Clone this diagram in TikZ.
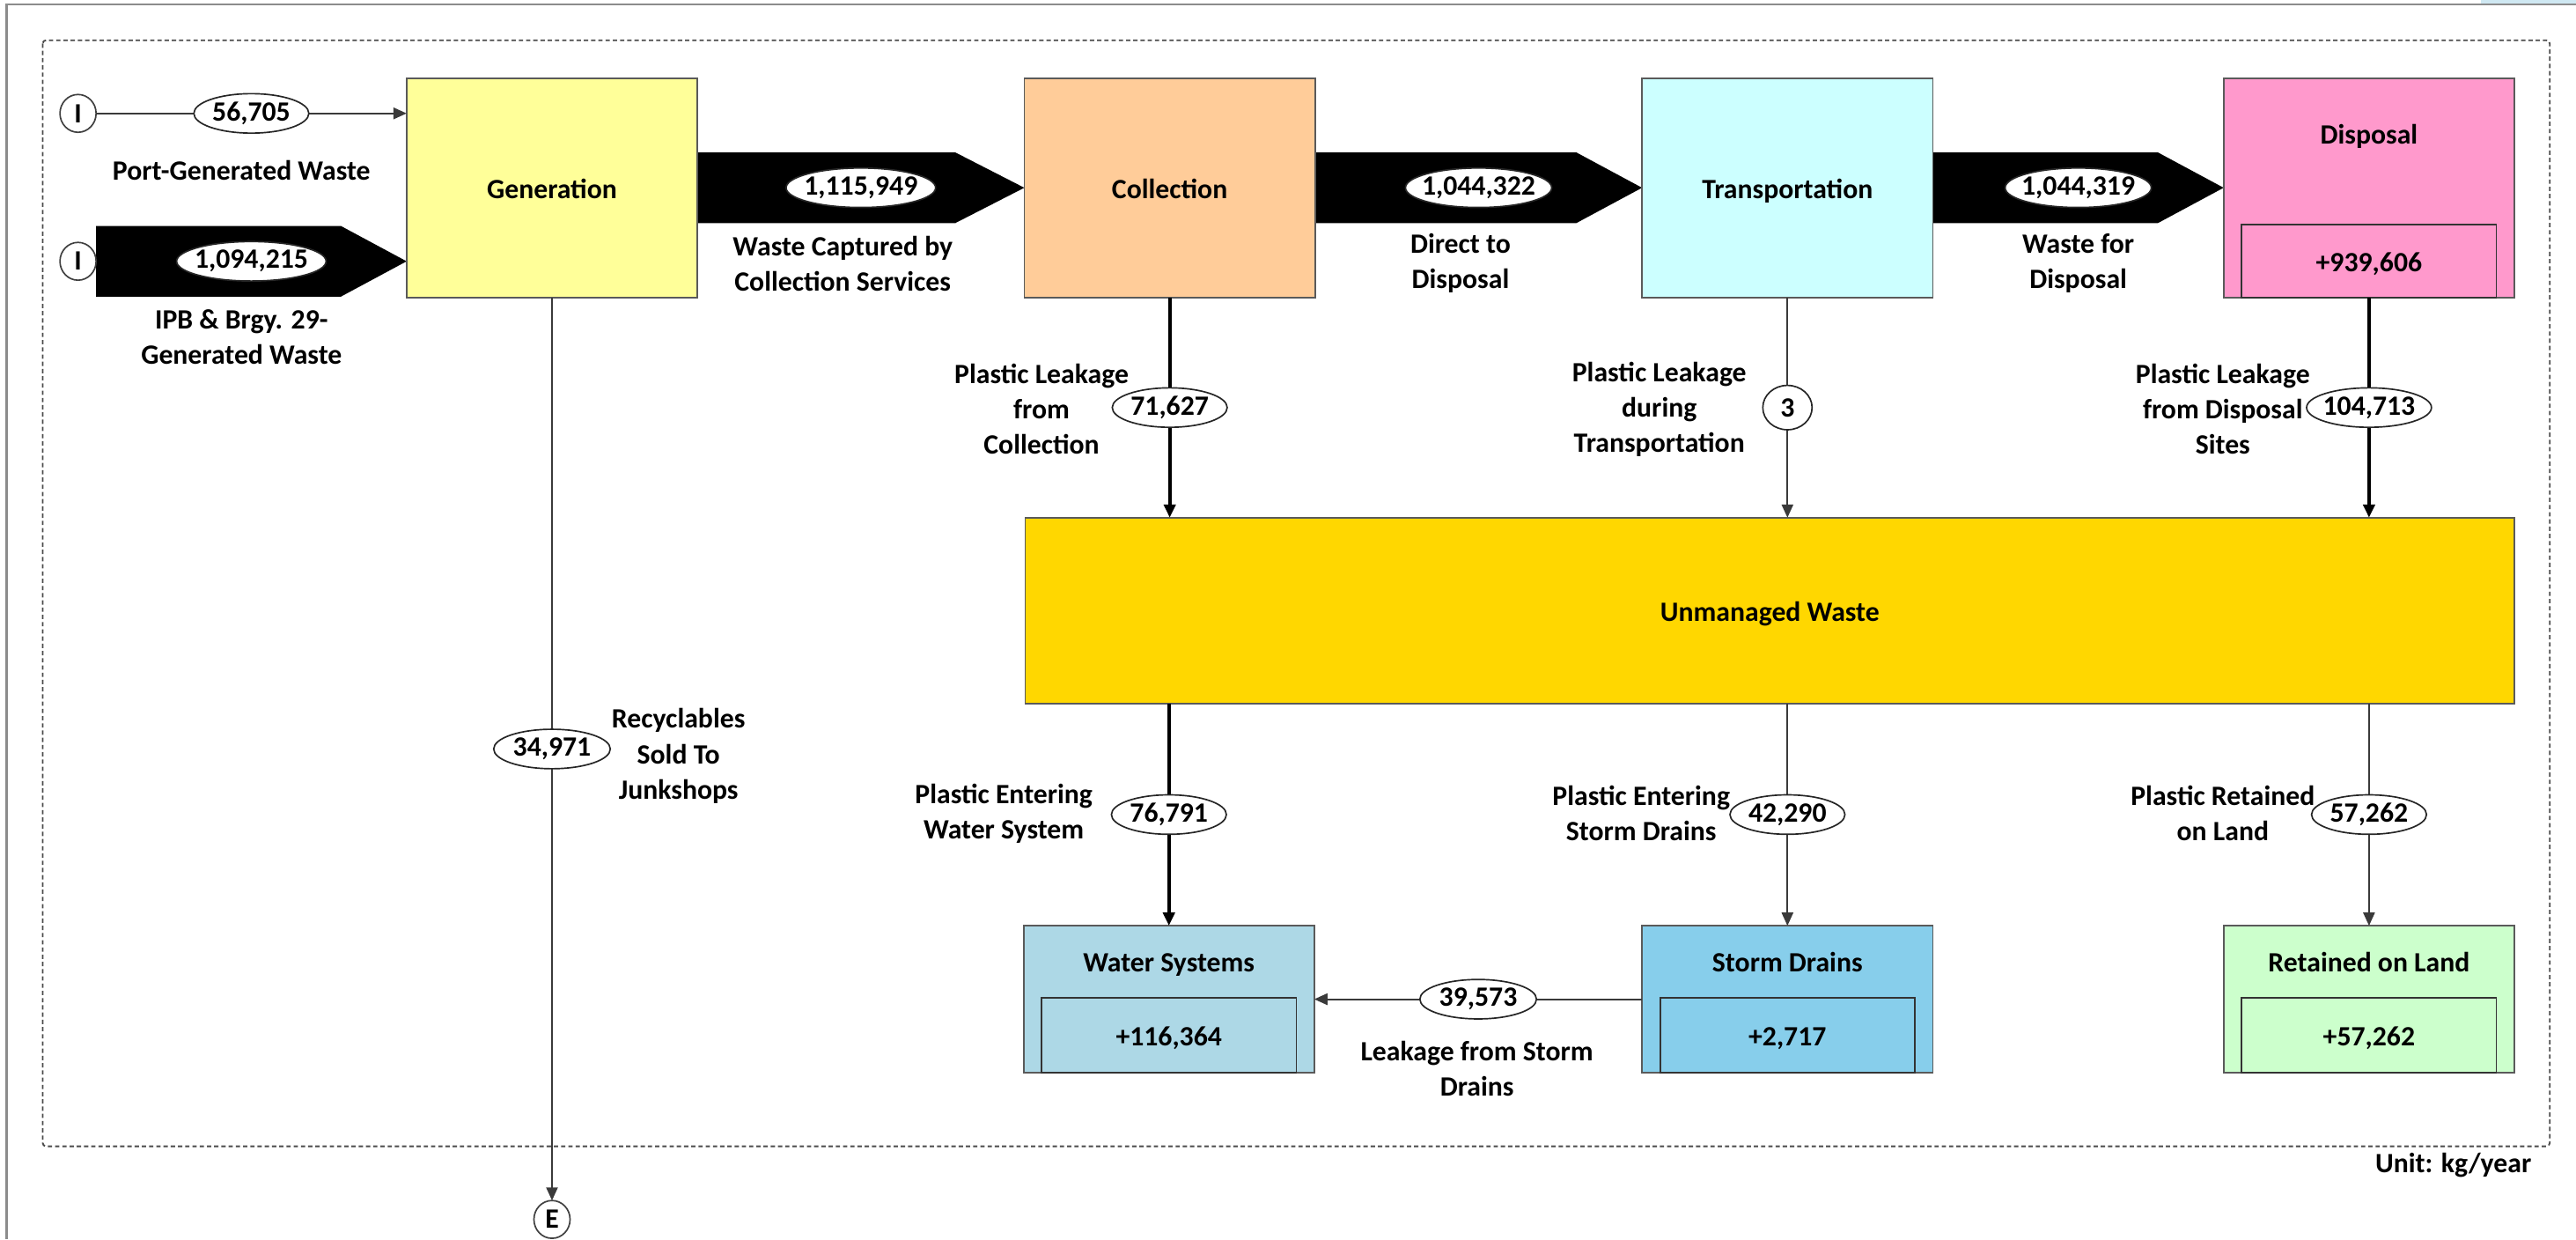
\documentclass[tikz,border=0pt]{standalone}
\usepackage{fontspec}
\setmainfont{Carlito}
\usetikzlibrary{shapes.geometric,arrows.meta,calc,backgrounds}

\definecolor{genfill}{HTML}{FFFF99}
\definecolor{colfill}{HTML}{FFCC99}
\definecolor{trafill}{HTML}{CCFFFF}
\definecolor{disfill}{HTML}{FF99CC}
\definecolor{unmfill}{HTML}{FFD700}
\definecolor{watfill}{HTML}{ADD8E6}
\definecolor{stofill}{HTML}{87CEEB}
\definecolor{lanfill}{HTML}{CCFFCC}
\definecolor{boxline}{HTML}{5A5A5A}
\definecolor{thinline}{HTML}{3A3A3A}
\definecolor{framegray}{HTML}{8C8C8C}
\definecolor{dashgray}{HTML}{4A4A4A}
\definecolor{stripblue}{HTML}{CFE8F2}

% zero-width text so that ellipse sizes are set by minimum width/height only
\newcommand\zw[1]{\makebox[0pt]{#1}}

% filled pentagon arrow: start, tip, half height, head length
\newcommand\fatflow[4]{%
  \fill[black] ($(#1)+(0,-#3)$) -- ($(#2)+(-#4,-#3)$) -- (#2)
    -- ($(#2)+(-#4,#3)$) -- ($(#1)+(0,#3)$) -- cycle;}

\tikzset{
  oneline/.style={text height=13pt, text depth=0pt},
  stage/.style={draw=boxline, line width=1pt, inner sep=0pt, outer sep=0pt,
    minimum width=177pt, minimum height=133.5pt, align=center, oneline},
  sink/.style={stage, minimum height=89.4pt},
  inbox/.style={draw=black!80, line width=0.9pt, inner sep=0pt, outer sep=0pt,
    minimum width=155pt, anchor=south, oneline},
  val/.style={ellipse, draw=black!85, line width=0.9pt, fill=white,
    inner sep=0pt, outer sep=0pt, minimum height=24pt, minimum width=#1},
  io/.style={ellipse, draw=black!75, line width=0.9pt, fill=white,
    inner sep=0pt, outer sep=0pt, minimum width=22pt, minimum height=23pt},
  lbl/.style={align=center, inner sep=0pt},
  flow/.style={draw=thinline, line width=1pt, -{Triangle[length=8pt,width=7pt]}},
  heavy/.style={draw=black, line width=2pt, -{Triangle[length=8pt,width=7pt]}},
}

\begin{document}
\begin{tikzpicture}[x=1pt, y=-1pt, font=\fontsize{17}{21.5}\selectfont\bfseries]
\useasboundingbox (0,0) rectangle (1568,754);

% page frame and system boundary
\fill[stripblue] (1510,0) rectangle (1568,2);
\draw[framegray, line width=1.2pt] (1568,2.7) -- (4,2.7) -- (4,754);
\draw[dashgray, line width=1pt, dash pattern=on 2.6pt off 1.8pt, rounded corners=2pt]
  (26,24.5) rectangle (1552,697.5);

% stages
\node[stage, fill=genfill] (gen) at (336,114.25) {Generation};
\node[stage, fill=colfill] (col) at (712,114.25) {Collection};
\node[stage, fill=trafill] (tra) at (1088,114.25) {Transportation};
\node[stage, fill=disfill] (dis) at (1442,114.25) {};
\node[lbl, oneline] (dist) at (1442,81) {Disposal};
\node[inbox, fill=disfill, minimum height=44.5pt] (disv) at (dis.south) {+939,606};

\node[stage, fill=unmfill, minimum width=906.6pt, minimum height=113pt] (unm) at (1077.3,371.5) {Unmanaged Waste};

\node[sink, fill=watfill] (wat) at (711.5,608) {};
\node[lbl, oneline] (watt) at ($(wat.north)+(0,21.7)$) {Water Systems};
\node[inbox, fill=watfill, minimum height=45.5pt] (watv) at (wat.south) {+116,364};

\node[sink, fill=stofill] (sto) at (1088,608) {};
\node[lbl, oneline] (stot) at ($(sto.north)+(0,21.7)$) {Storm Drains};
\node[inbox, fill=stofill, minimum height=45.5pt] (stov) at (sto.south) {+2,717};

\node[sink, fill=lanfill] (lan) at (1442,608) {};
\node[lbl, oneline] (lant) at ($(lan.north)+(0,21.7)$) {Retained on Land};
\node[inbox, fill=lanfill, minimum height=45.5pt] (lanv) at (lan.south) {+57,262};

% inputs and exit
\node[io] (in1) at (47.5,69) {I};
\node[io] (in2) at (47.5,159) {I};
\node[io] (exit) at (336,742) {E};
\coordinate (ipbtip) at (gen.west |- in2);

% main flows
\begin{scope}[on background layer]
  \fatflow{in2.east}{ipbtip}{21.5}{40}
  \fatflow{gen.east}{col.west}{21.5}{42}
  \fatflow{col.east}{tra.west}{21.5}{40}
  \fatflow{tra.east}{dis.west}{21.5}{40}
\end{scope}
\node[val=91] (vipb) at ($(in2.east)!0.5!(ipbtip)$) {\zw{1,094,215}};
\node[val=91] (vgc) at ($(gen.east)!0.5!(col.west)$) {\zw{1,115,949}};
\node[val=89] (vct) at ($(col.east)!0.5!(tra.west)$) {\zw{1,044,322}};
\node[val=89] (vtd) at ($(tra.east)!0.5!(dis.west)$) {\zw{1,044,319}};

% flow labels
\node[lbl] (lport) at (147,103.7) {Port-Generated Waste};
\node[lbl] (lipb) at (147,205) {IPB \& Brgy. 29-\\Generated Waste};
\node[lbl] (lcap) at (513,160.5) {Waste Captured by\\Collection Services};
\node[lbl] (ldir) at (889,160) {Direct to\\Disposal};
\node[lbl] (lwfd) at (1265,160) {Waste for\\Disposal};
\node[lbl] (lrec) at (413,460) {Recyclables\\Sold To\\Junkshops};
\node[lbl] (llc) at (634,249) {Plastic Leakage\\from\\Collection};
\node[lbl] (llt) at (1010,249) {Plastic Leakage\\during\\Transportation};
\node[lbl] (lld) at (1353,249) {Plastic Leakage\\from Disposal\\Sites};
\node[lbl] (lew) at (611,495) {Plastic Entering\\Water System};
\node[lbl] (les) at (999,495) {Plastic Entering\\Storm Drains};
\node[lbl] (lrl) at (1353,495) {Plastic Retained\\on Land};
\node[lbl] (lls) at (899,650.5) {Leakage from Storm\\Drains};
\node[lbl, anchor=east] (unit) at (1541,709) {Unit: kg/year};

% connectors with values
\draw[flow] (in1.east) -- node[val=70] (vport) {\zw{56,705}} (in1 -| gen.west);
\draw[flow] (gen.south) -- node[val=71] (vrec) {\zw{34,971}} (exit.north);
\draw[heavy] (col.south) -- node[val=70] (vlc) {\zw{71,627}} (col.south |- unm.north);
\draw[flow] (tra.south) -- node[val=30, minimum height=27pt] (vlt) {\zw{3}} (tra.south |- unm.north);
\draw[heavy] (dis.south) -- node[val=76] (vld) {\zw{104,713}} (dis.south |- unm.north);
\draw[heavy] (wat.north |- unm.south) -- node[val=70] (vew) {\zw{76,791}} (wat.north);
\draw[flow] (sto.north |- unm.south) -- node[val=70] (ves) {\zw{42,290}} (sto.north);
\draw[flow] (lan.north |- unm.south) -- node[val=70] (vrl) {\zw{57,262}} (lan.north);
\draw[flow] (sto.west) -- node[val=71] (vls) {\zw{39,573}} (wat.east);
\end{tikzpicture}
\end{document}
